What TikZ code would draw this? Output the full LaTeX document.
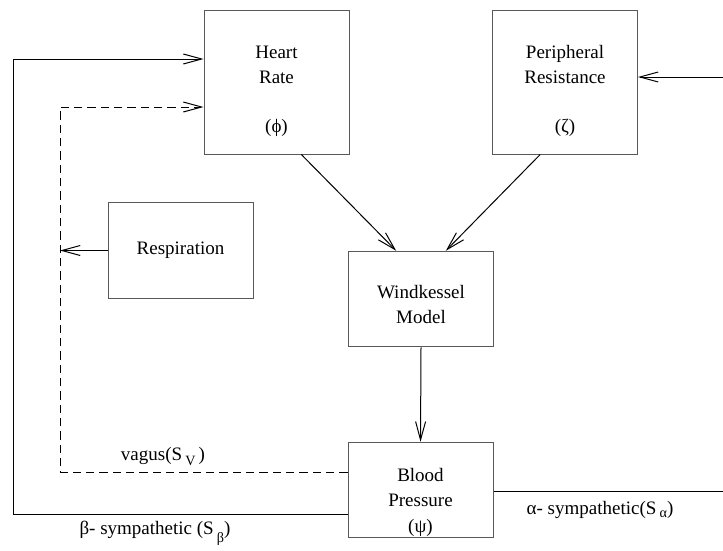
\documentclass[tikz,border=0pt]{standalone}
\usepackage{fontspec}
\setmainfont{Liberation Serif}
\usepackage{tikz}
\usetikzlibrary{arrows.meta,calc,positioning}
\newcommand{\lowsub}[2][3pt]{\,\raisebox{-#1}{\fontsize{8.5}{10}\selectfont #2}}

\begin{document}
\begin{tikzpicture}[x=0.6pt, y=-0.6pt,
    every node/.style = {font=\rmfamily\fontsize{11.4}{15}\selectfont},
    block/.style = {draw=black!65, line width=0.6pt, align=center, inner sep=0pt, minimum width=87pt},
    tall/.style = {block, minimum height=86.4pt},
    flat/.style = {block, minimum height=57.3pt},
    link/.style = {line width=0.6pt, -{Straight Barb[length=11pt,width=6pt]}},
    vag/.style = {link, dash pattern=on 5pt off 3pt}]
\useasboundingbox (0,0) rectangle (723,550);
\node [tall] (HR) at (276.5,82) {\rule{0pt}{19pt}Heart\\Rate\\[14.4pt](ϕ)};
\node [tall] (PR) at (565,82) {\rule{0pt}{19pt}Peripheral\\Resistance\\[14.4pt](ζ)};
\node [flat] (Resp) at (180.5,250.5) {\raisebox{3pt}{Respiration}};
\node [flat] (WK) at (421,299) {\rule{0pt}{15pt}Windkessel\\Model};
\node [flat] (BP) at (420.5,490) {\rule{0pt}{23pt}Blood\\Pressure\\[0.6pt](ψ)};

\coordinate (st) at (13,59);
\coordinate (sb) at (13,514);
\coordinate (vt) at (60,107);
\coordinate (vb) at (60,472);
\coordinate (ain) at (723,77);
\coordinate (aout) at (723,491);

\draw [link] ($(HR.south west)!0.67!(HR.south east)$) -- ($(WK.north west)!0.33!(WK.north east)$);
\draw [link] ($(PR.south west)!0.33!(PR.south east)$) -- ($(WK.north west)!0.67!(WK.north east)$);
\draw [link] (WK.south) -- (BP.north);
\draw [link] (ain) -- (ain -| PR.east);
\draw [link] (Resp.west) -- (Resp.west -| vb);
\draw [link] (sb -| BP.west) -- (sb) -- (st) -- (st -| HR.west);
\draw [vag] (vb -| BP.west) -- (vb) -- (vt) -- (vt -| HR.west);
\draw [line width=0.6pt] (BP.east |- aout) -- (aout);

\node (vlab) at (163,457) {vagus(S\lowsub{V}\,)};
\node (blab) at (155,533) {β- sympathetic (S\lowsub[5pt]{β})};
\node (alab) at (600,510) {α- sympathetic(S\lowsub[2pt]{α})};
\end{tikzpicture}
\end{document}
